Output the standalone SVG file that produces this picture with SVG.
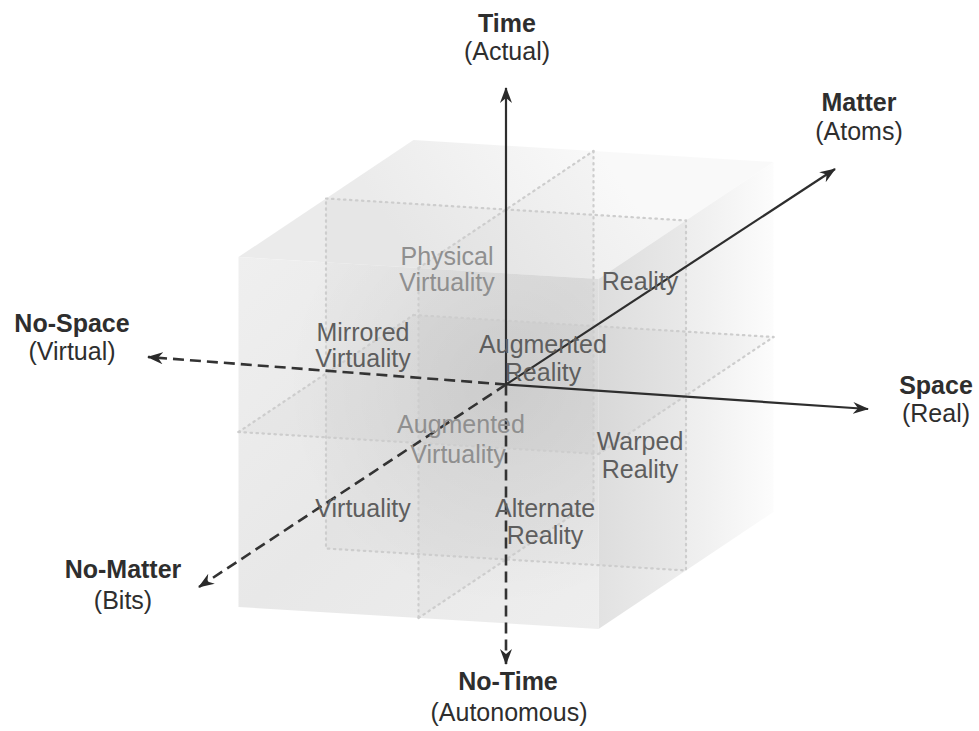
<svg xmlns="http://www.w3.org/2000/svg" width="979" height="731" viewBox="0 0 979 731">
<defs>
<style>
.ax{font-family:"Liberation Sans",Arial,sans-serif;font-size:25px;fill:#2e2e2e;text-anchor:middle}
.axb{font-weight:bold}
.cl{font-family:"Liberation Sans",Arial,sans-serif;font-size:25px;fill:#5e5e5e;text-anchor:middle}
.cb{fill:#8f8f8f}
.dot{fill:none;stroke:#cdcdcd;stroke-width:2.2;stroke-dasharray:1.5 4.5;stroke-linecap:round}
.solid{fill:none;stroke:#2e2e2e;stroke-width:2.2}
.dash{fill:none;stroke:#333;stroke-width:2.6;stroke-dasharray:11 6}
.plane{fill:#000;fill-opacity:0.018;stroke:none}
</style>
<marker id="ah" markerUnits="userSpaceOnUse" markerWidth="18" markerHeight="14" refX="15" refY="7" orient="auto">
<path d="M0,1 L16,7 L0,13 L5,7 z" fill="#2a2a2a"/>
</marker>
<linearGradient id="gTop" gradientUnits="userSpaceOnUse" x1="420" y1="270" x2="600" y2="150">
<stop offset="0" stop-color="#ebebeb"/>
<stop offset="1" stop-color="#f9f9f9"/>
</linearGradient>
<linearGradient id="gRight" gradientUnits="userSpaceOnUse" x1="598" y1="0" x2="790" y2="0">
<stop offset="0" stop-color="#e2e2e2"/>
<stop offset="0.55" stop-color="#f0f0f0"/>
<stop offset="1" stop-color="#ffffff"/>
</linearGradient>
<linearGradient id="gFront" gradientUnits="userSpaceOnUse" x1="238" y1="257" x2="598" y2="629">
<stop offset="0" stop-color="#efefef"/>
<stop offset="0.5" stop-color="#e8e8e8"/>
<stop offset="1" stop-color="#eeeeee"/>
</linearGradient>
<radialGradient id="gCore" gradientUnits="userSpaceOnUse" cx="506" cy="385" r="220">
<stop offset="0" stop-color="#000" stop-opacity="0.06"/>
<stop offset="1" stop-color="#000" stop-opacity="0"/>
</radialGradient>
</defs>
<rect width="979" height="731" fill="#fff"/>

<g id="cube">
<polygon points="238.5,257 598.5,279 773.5,162 413.5,140" fill="url(#gTop)"/>
<polygon points="598.5,279 773.5,162 773.5,512 598.5,629" fill="url(#gRight)"/>
<polygon points="238.5,257 598.5,279 598.5,629 238.5,607" fill="url(#gFront)"/>
<polygon class="plane" points="326,198.5 686,220.5 686,570.5 326,548.5"/>
<polygon class="plane" points="238.5,432 598.5,454 773.5,337 413.5,315"/>
<polygon class="plane" points="418.5,268 593.5,151 593.5,501 418.5,618"/>
<polygon points="238.5,257 598.5,279 598.5,629 238.5,607" fill="url(#gCore)"/>
<polygon class="dot" points="326,198.5 686,220.5 686,570.5 326,548.5"/>
<line class="dot" x1="418.5" y1="268" x2="418.5" y2="618"/>
<line class="dot" x1="238.5" y1="432" x2="598.5" y2="454"/>
<line class="dot" x1="593.5" y1="151" x2="593.5" y2="501"/>
<line class="dot" x1="413.5" y1="315" x2="773.5" y2="337"/>
<line class="dot" x1="418.5" y1="268" x2="593.5" y2="151"/>
<line class="dot" x1="418.5" y1="618" x2="593.5" y2="501"/>
<line class="dot" x1="238.5" y1="432" x2="413.5" y2="315"/>
<line class="dot" x1="598.5" y1="454" x2="773.5" y2="337"/>
</g>

<g id="connectors">
<line class="solid" x1="506" y1="384.5" x2="506" y2="88" marker-end="url(#ah)"/>
<line class="solid" x1="506" y1="384.5" x2="835" y2="169" marker-end="url(#ah)"/>
<line class="solid" x1="506" y1="384.5" x2="868" y2="409" marker-end="url(#ah)"/>
<line class="dash" x1="506" y1="384.5" x2="148" y2="357" marker-end="url(#ah)"/>
<line class="dash" x1="506" y1="384.5" x2="199" y2="587" marker-end="url(#ah)"/>
<line class="dash" x1="506" y1="384.5" x2="506" y2="664" marker-end="url(#ah)"/>
</g>

<g id="time"><text class="ax axb" x="507" y="32">Time</text><text class="ax" x="507" y="60">(Actual)</text></g>
<g id="matter"><text class="ax axb" x="859" y="111">Matter</text><text class="ax" x="859" y="140">(Atoms)</text></g>
<g id="space"><text class="ax axb" x="936" y="394">Space</text><text class="ax" x="936" y="422">(Real)</text></g>
<g id="no-space"><text class="ax axb" x="72" y="332">No-Space</text><text class="ax" x="72" y="360">(Virtual)</text></g>
<g id="no-matter"><text class="ax axb" x="123" y="578">No-Matter</text><text class="ax" x="123" y="609">(Bits)</text></g>
<g id="no-time"><text class="ax axb" x="508" y="690">No-Time</text><text class="ax" x="509" y="721">(Autonomous)</text></g>

<g id="physical-virtuality"><text class="cl cb" x="447" y="265">Physical</text><text class="cl cb" x="447" y="291">Virtuality</text></g>
<g id="reality"><text class="cl" x="640" y="290">Reality</text></g>
<g id="mirrored-virtuality"><text class="cl" x="363" y="341">Mirrored</text><text class="cl" x="363" y="367">Virtuality</text></g>
<g id="augmented-reality"><text class="cl" x="543" y="353">Augmented</text><text class="cl" x="543" y="381">Reality</text></g>
<g id="augmented-virtuality"><text class="cl cb" x="461" y="433">Augmented</text><text class="cl cb" x="458" y="463">Virtuality</text></g>
<g id="warped-reality"><text class="cl" x="640" y="450">Warped</text><text class="cl" x="640" y="478">Reality</text></g>
<g id="virtuality"><text class="cl" x="363" y="517">Virtuality</text></g>
<g id="alternate-reality"><text class="cl" x="545" y="517">Alternate</text><text class="cl" x="545" y="544">Reality</text></g>
</svg>
